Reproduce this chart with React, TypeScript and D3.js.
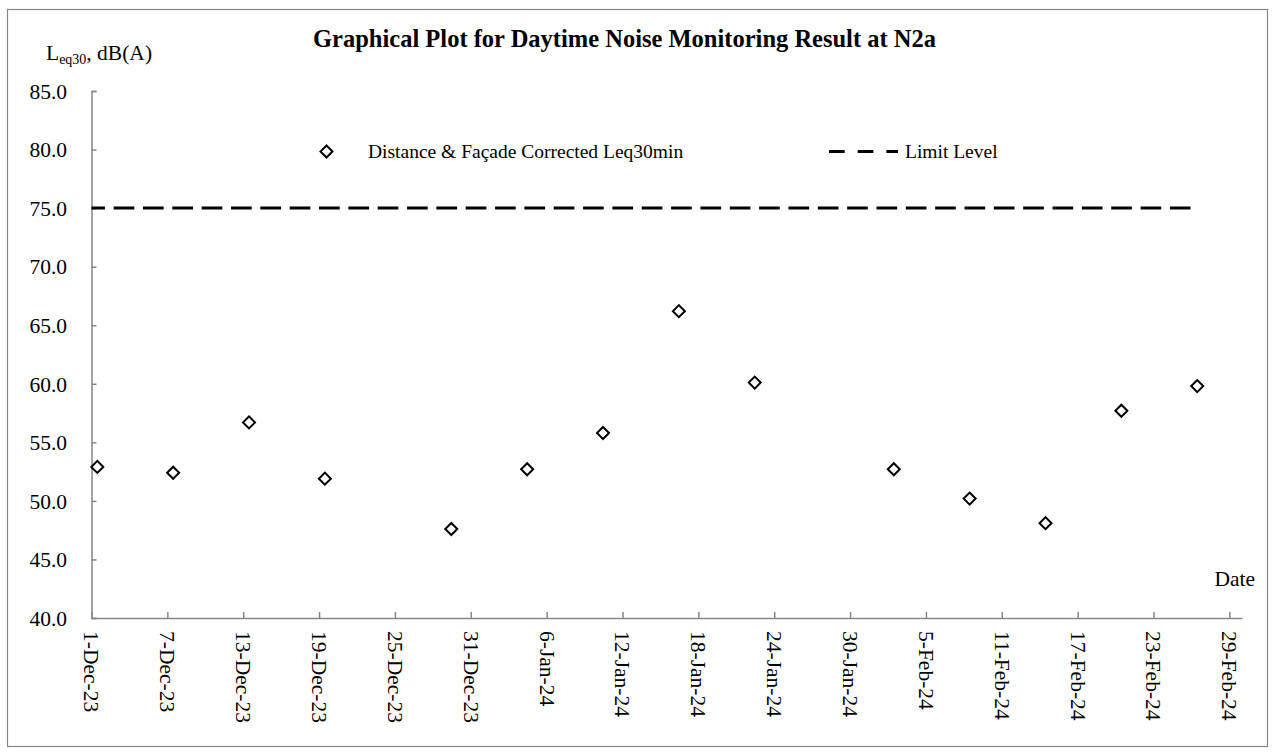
import React, { useEffect, useRef } from "react";
import * as d3 from "d3";

const measureDates = [
  "2023-12-01T11:00", "2023-12-07T11:00", "2023-12-13T11:00", "2023-12-19T11:00",
  "2023-12-29T11:00", "2024-01-04T11:00", "2024-01-10T11:00", "2024-01-16T11:00",
  "2024-01-22T11:00", "2024-02-02T11:00", "2024-02-08T11:00", "2024-02-14T11:00",
  "2024-02-20T11:00", "2024-02-26T11:00",
];
const leqValues = [52.9, 52.4, 56.7, 51.9, 47.6, 52.7, 55.8, 66.2, 60.1, 52.7, 50.2, 48.1, 57.7, 59.8];

const limitDates = ["2023-12-01T00:00", "2024-02-26T11:00"];
const limitLevel = 75;

const xTickDates = [
  "2023-12-01", "2023-12-07", "2023-12-13", "2023-12-19", "2023-12-25", "2023-12-31",
  "2024-01-06", "2024-01-12", "2024-01-18", "2024-01-24", "2024-01-30", "2024-02-05",
  "2024-02-11", "2024-02-17", "2024-02-23", "2024-02-29",
];
const yTicks = [40, 45, 50, 55, 60, 65, 70, 75, 80, 85];

const title = "Graphical Plot for Daytime Noise Monitoring Result at N2a";
const seriesName = "Distance & Façade Corrected Leq30min";
const limitName = "Limit Level";

function App() {
  const ref = useRef(null);

  useEffect(() => {
    const width = 1274;
    const height = 756;
    const font = "'Liberation Serif', 'Times New Roman', serif";
    const axisColor = "#868686";
    const parse = d3.timeParse("%Y-%m-%dT%H:%M");
    const parseDay = d3.timeParse("%Y-%m-%d");

    const svg = d3.select(ref.current);
    svg.selectAll("*").remove();

    const x = d3.scaleTime()
      .domain([parseDay("2023-12-01"), parseDay("2024-03-01")])
      .range([91.5, 1242]);
    const y = d3.scaleLinear().domain([40, 85]).range([618, 91]);

    svg.append("rect")
      .attr("x", 7.5).attr("y", 9.5)
      .attr("width", 1260).attr("height", 737)
      .attr("fill", "#fff")
      .attr("stroke", axisColor)
      .attr("stroke-width", 1.2);

    // title
    svg.append("text")
      .attr("x", 624.5).attr("y", 47)
      .attr("text-anchor", "middle")
      .attr("font-family", font)
      .attr("font-weight", "bold")
      .attr("font-size", 24.5)
      .text(title);

    // y axis label with subscript
    const yl = svg.append("text")
      .attr("x", 46).attr("y", 60)
      .attr("font-family", font)
      .attr("font-size", 21.5);
    yl.append("tspan").text("L");
    yl.append("tspan").attr("font-size", 14).attr("dy", 4).text("eq30");
    yl.append("tspan").attr("dy", -4).text(", dB(A)");

    // y axis
    const yAxis = svg.append("g")
      .attr("transform", `translate(${x.range()[0]},0)`)
      .call(d3.axisRight(y).tickValues(yTicks).tickSize(5).tickFormat(() => ""));
    yAxis.select(".domain").attr("stroke", axisColor).attr("stroke-width", 1.5);
    yAxis.selectAll(".tick line").attr("stroke", axisColor).attr("stroke-width", 1.5);

    svg.append("g")
      .selectAll("text")
      .data(yTicks)
      .join("text")
      .attr("x", 67)
      .attr("y", d => y(d))
      .attr("dy", "0.36em")
      .attr("text-anchor", "end")
      .attr("font-family", font)
      .attr("font-size", 21.5)
      .text(d => d3.format(".1f")(d));

    // x axis
    const tickDates = xTickDates.map(parseDay);
    const xAxis = svg.append("g")
      .attr("transform", `translate(0,${y.range()[0]})`)
      .call(d3.axisTop(x).tickValues(tickDates).tickSize(6).tickFormat(() => "").tickSizeOuter(0));
    xAxis.select(".domain").attr("stroke", axisColor).attr("stroke-width", 1.5);
    xAxis.selectAll(".tick line").attr("stroke", axisColor).attr("stroke-width", 1.5);

    svg.append("g")
      .selectAll("text")
      .data(tickDates)
      .join("text")
      .attr("transform", d => `translate(${x(d)},631) rotate(90)`)
      .attr("dy", "0.33em")
      .attr("text-anchor", "start")
      .attr("font-family", font)
      .attr("font-size", 21.5)
      .text(d => d3.timeFormat("%-d-%b-%y")(d));

    svg.append("text")
      .attr("x", 1255).attr("y", 586)
      .attr("text-anchor", "end")
      .attr("font-family", font)
      .attr("font-size", 21.5)
      .text("Date");

    // limit line
    const line = d3.line()
      .x(d => x(d))
      .y(() => y(limitLevel));
    svg.append("path")
      .attr("d", line(limitDates.map(parse)))
      .attr("fill", "none")
      .attr("stroke", "#000")
      .attr("stroke-width", 3)
      .attr("stroke-dasharray", "20.67,8.67")
      .attr("stroke-dashoffset", 7.2);

    // points
    const data = measureDates.map((d, i) => ({ date: parse(d), value: leqValues[i] }));
    const diamond = d3.symbol().type(d3.symbolSquare).size(72);
    svg.append("g")
      .selectAll("path")
      .data(data)
      .join("path")
      .attr("d", diamond)
      .attr("transform", d => `translate(${x(d.date)},${y(d.value)}) rotate(45)`)
      .attr("fill", "#fff")
      .attr("stroke", "#000")
      .attr("stroke-width", 2);

    // legend
    svg.append("path")
      .attr("d", diamond)
      .attr("transform", "translate(326.5,151.5) rotate(45)")
      .attr("fill", "#fff")
      .attr("stroke", "#000")
      .attr("stroke-width", 2);
    svg.append("text")
      .attr("x", 368).attr("y", 158)
      .attr("font-family", font)
      .attr("font-size", 19.5)
      .text(seriesName);

    svg.append("line")
      .attr("x1", 829).attr("x2", 898)
      .attr("y1", 151.5).attr("y2", 151.5)
      .attr("stroke", "#000")
      .attr("stroke-width", 3)
      .attr("stroke-dasharray", "15.7,13");
    svg.append("text")
      .attr("x", 905).attr("y", 158)
      .attr("font-family", font)
      .attr("font-size", 19.5)
      .text(limitName);

    svg.attr("width", width).attr("height", height);
  }, []);

  return (
    <svg
      ref={ref}
      width={1274}
      height={756}
      style={{ position: "absolute", left: 0, top: 0, background: "#fff" }}
    />
  );
}

export default App;
